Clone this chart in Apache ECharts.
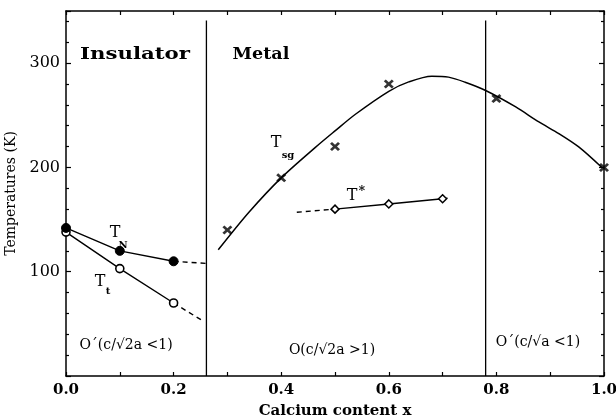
<!DOCTYPE html>
<html><head><meta charset="utf-8">
<script src="https://cdn.jsdelivr.net/npm/echarts@6/dist/echarts.min.js"></script>
<style>html,body{margin:0;padding:0;background:#fff}#c{width:616px;height:419px}</style>
</head><body><div id="c"></div>
<script>
// ---- data ----
const tnX = [0, 0.1, 0.2];
const tnY = [142, 120, 110];
const tnDashX = [0.2, 0.26];
const tnDashY = [110, 108];
const ttX = [0, 0.1, 0.2];
const ttY = [138, 103, 70];
const ttDashX = [0.2, 0.257];
const ttDashY = [70, 52];
const tsgX = [0.3, 0.4, 0.5, 0.6, 0.8, 1.0];
const tsgY = [140, 190, 220, 280, 266, 200];
const tsgCurveX = [0.283, 0.34, 0.4, 0.463, 0.5, 0.538, 0.6, 0.637, 0.68, 0.711, 0.742, 0.78, 0.836, 0.879, 0.916, 0.953, 0.996];
const tsgCurveY = [121, 157, 190, 219, 235, 251, 273, 282, 287.5, 286.6, 281.7, 273.8, 258, 243.6, 232.5, 219.7, 200];
const tStarX = [0.5, 0.6, 0.7];
const tStarY = [160, 165, 170];
const tStarDashLX = [0.429, 0.5];
const tStarDashLY = [157, 160];
const tStarDashRX = [0.7, 0.716];
const tStarDashRY = [170, 171];
const boundaryX = [0.261, 0.78];
const boundaryY = [0, 341];
const yTickLabels = [100, 200, 300];
const xTickLabels = [0.0, 0.2, 0.4, 0.6, 0.8, 1.0];

const zip = (xs, ys) => xs.map((x, i) => [x, ys[i]]);
const serif = '"DejaVu Serif", serif';
const crossPath = 'path://M0,2L2,0L5,3L8,0L10,2L7,5L10,8L8,10L5,7L2,10L0,8L3,5Z';

const chart = echarts.init(document.getElementById('c'), null, {renderer: 'canvas'});

const axisLineStyle = {color: '#000', width: 1.5};
const baseX = {
  type: 'value', min: 0, max: 1, interval: 0.2,
  axisLine: {show: true, onZero: false, lineStyle: axisLineStyle},
  axisTick: {show: true, inside: true, length: 4, lineStyle: {color: '#000', width: 1.2}},
  minorTick: {show: true, splitNumber: 2, length: 4, lineStyle: {color: '#000', width: 1.2}},
  splitLine: {show: false}
};
const baseY = {
  type: 'value', min: 0, max: 350, interval: 100,
  axisLine: {show: true, onZero: false, lineStyle: axisLineStyle},
  axisTick: {show: true, inside: true, length: 5, lineStyle: {color: '#000', width: 1.2}},
  minorTick: {show: true, splitNumber: 5, length: 3, lineStyle: {color: '#000', width: 1.2}},
  splitLine: {show: false}
};

const lineS = (data, dashed, extra) => Object.assign({
  type: 'line', data, symbol: 'none', silent: true,
  lineStyle: {color: '#000', width: 1.4, type: dashed ? [5, 4] : 'solid'},
  animation: false, z: 2
}, extra || {});

const option = {
  animation: false,
  backgroundColor: '#fff',
  grid: {left: 66, right: 12, top: 11, bottom: 43, containLabel: false, outerBoundsMode: 'none'},
  xAxis: [
    Object.assign({}, baseX, {
      position: 'bottom',
      name: 'Calcium content x', nameLocation: 'middle', nameGap: 28,
      nameTextStyle: {fontFamily: serif, fontWeight: 'bold', fontSize: 15, color: '#000'},
      axisLabel: {show: true, margin: 7, fontFamily: serif, fontWeight: 'bold', fontSize: 15, color: '#000',
        formatter: v => { const m = xTickLabels.find(t => Math.abs(t - v) < 1e-6); return m === undefined ? '' : m.toFixed(1); }}
    }),
    Object.assign({}, baseX, {position: 'top', axisLabel: {show: false}})
  ],
  yAxis: [
    Object.assign({}, baseY, {
      position: 'left',
      name: 'Temperatures (K)', nameLocation: 'middle', nameGap: 36, nameRotate: 90,
      nameTextStyle: {fontFamily: serif, fontSize: 14, color: '#000'},
      axisLabel: {show: true, margin: 6, fontFamily: serif, fontSize: 16, color: '#000',
        formatter: v => yTickLabels.includes(v) ? String(v) : ''}
    }),
    Object.assign({}, baseY, {position: 'right', axisLabel: {show: false}})
  ],
  series: [
    // phase boundaries
    lineS(zip([boundaryX[0], boundaryX[0]], boundaryY), false, {lineStyle: {color: '#000', width: 1.3}}),
    lineS(zip([boundaryX[1], boundaryX[1]], boundaryY), false, {lineStyle: {color: '#000', width: 1.3}}),
    // T_N
    lineS(zip(tnDashX, tnDashY), true),
    {type: 'line', data: zip(tnX, tnY), symbol: 'circle', symbolSize: 9, z: 4,
      lineStyle: {color: '#000', width: 1.4}, itemStyle: {color: '#000', borderColor: '#000', borderWidth: 1}},
    // T_t
    lineS(zip(ttDashX, ttDashY), true),
    {type: 'line', data: zip(ttX, ttY), symbol: 'circle', symbolSize: 8, z: 3,
      lineStyle: {color: '#000', width: 1.4}, itemStyle: {color: '#fff', borderColor: '#000', borderWidth: 1.6}},
    // T_sg curve
    lineS(zip(tsgCurveX, tsgCurveY), false, {smooth: 0.3, lineStyle: {color: '#000', width: 1.5}}),
    {type: 'scatter', data: zip(tsgX, tsgY), symbol: crossPath, symbolSize: [10, 9], z: 5,
      itemStyle: {color: '#000'}},
    // T*
    lineS(zip(tStarDashLX, tStarDashLY), true),
    lineS(zip(tStarDashRX, tStarDashRY), true),
    {type: 'line', data: zip(tStarX, tStarY), symbol: 'diamond', symbolSize: [8, 8], z: 4,
      lineStyle: {color: '#000', width: 1.4}, itemStyle: {color: '#fff', borderColor: '#000', borderWidth: 1.5}}
  ],
  graphic: [
    {type: 'text', x: 135, y: 55, scaleX: 1.33, style: {text: 'Insulator', font: 'bold 16px ' + serif, fill: '#000', textAlign: 'center', textVerticalAlign: 'middle'}},
    {type: 'text', x: 261, y: 55, scaleX: 1.1, style: {text: 'Metal', font: 'bold 16px ' + serif, fill: '#000', textAlign: 'center', textVerticalAlign: 'middle'}},
    {type: 'text', x: 115, y: 233, style: {text: 'T', font: '16px ' + serif, fill: '#000', textAlign: 'center', textVerticalAlign: 'middle'}},
    {type: 'text', x: 123, y: 245, style: {text: 'N', font: 'bold 10px ' + serif, fill: '#000', textAlign: 'center', textVerticalAlign: 'middle'}},
    {type: 'text', x: 100, y: 282, style: {text: 'T', font: '16px ' + serif, fill: '#000', textAlign: 'center', textVerticalAlign: 'middle'}},
    {type: 'text', x: 108, y: 291, style: {text: 't', font: 'bold 10px ' + serif, fill: '#000', textAlign: 'center', textVerticalAlign: 'middle'}},
    {type: 'text', x: 276, y: 143, style: {text: 'T', font: '16px ' + serif, fill: '#000', textAlign: 'center', textVerticalAlign: 'middle'}},
    {type: 'text', x: 288, y: 155, style: {text: 'sg', font: 'bold 10px ' + serif, fill: '#000', textAlign: 'center', textVerticalAlign: 'middle'}},
    {type: 'text', x: 352, y: 196, style: {text: 'T', font: '16px ' + serif, fill: '#000', textAlign: 'center', textVerticalAlign: 'middle'}},
    {type: 'text', x: 362, y: 192, style: {text: '*', font: 'bold 12px ' + serif, fill: '#000', textAlign: 'center', textVerticalAlign: 'middle'}},
    {type: 'text', x: 126, y: 345, style: {text: 'O´(c/√2a <1)', font: '14px ' + serif, fill: '#000', textAlign: 'center', textVerticalAlign: 'middle'}},
    {type: 'text', x: 332, y: 350, style: {text: 'O(c/√2a >1)', font: '14px ' + serif, fill: '#000', textAlign: 'center', textVerticalAlign: 'middle'}},
    {type: 'text', x: 538, y: 342, style: {text: 'O´(c/√a <1)', font: '14px ' + serif, fill: '#000', textAlign: 'center', textVerticalAlign: 'middle'}}
  ]
};
chart.setOption(option);
</script>
</body></html>
